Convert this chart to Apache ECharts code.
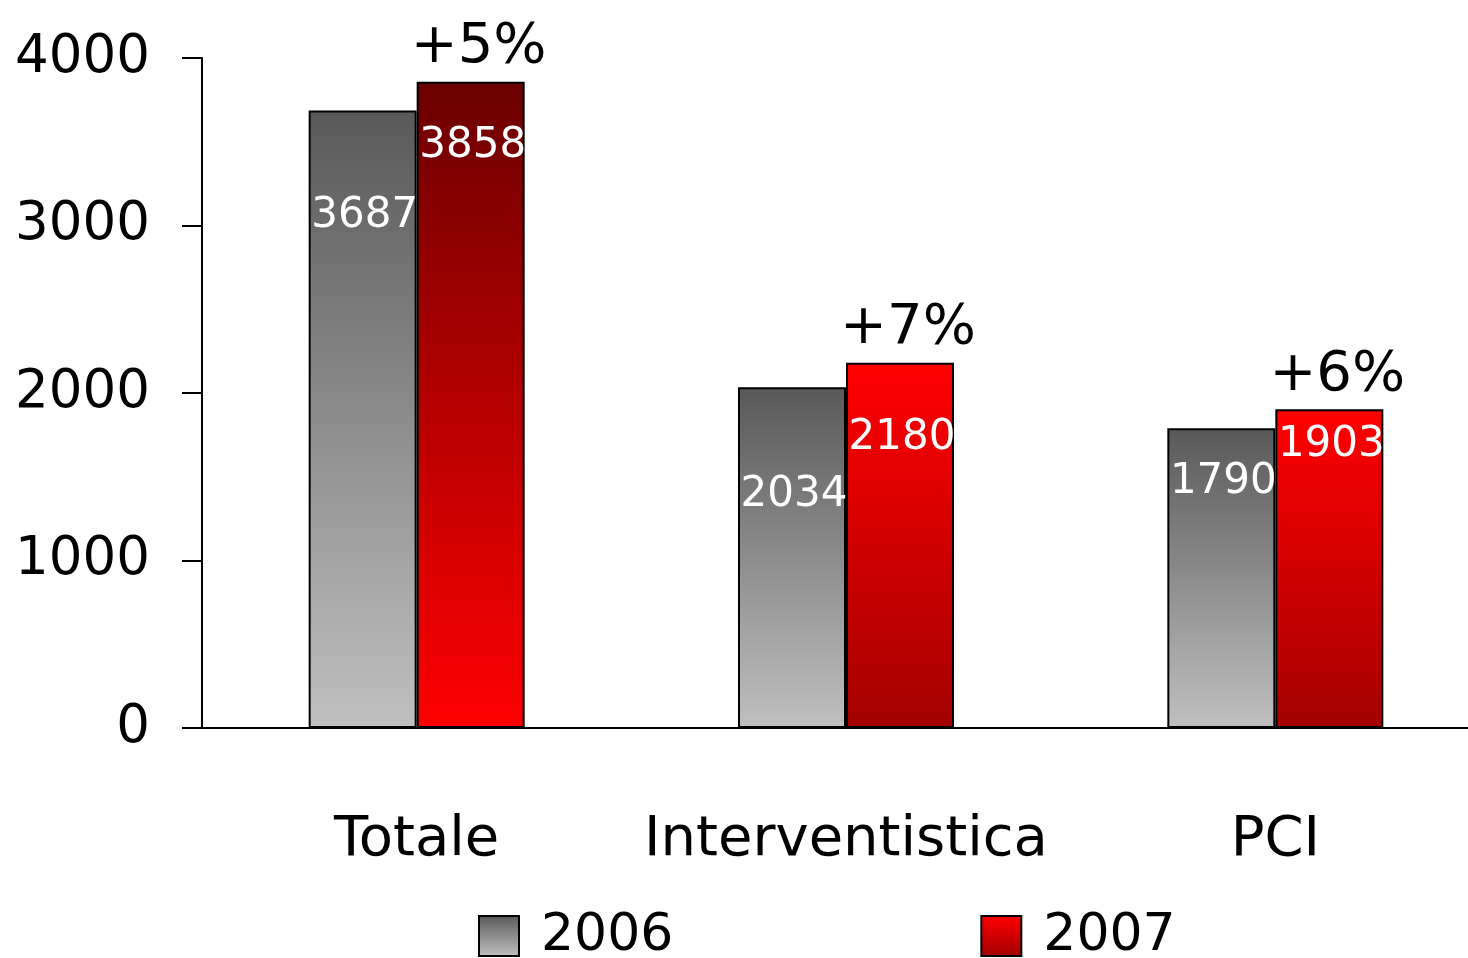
<!DOCTYPE html>
<html>
<head>
<meta charset="utf-8">
<script src="https://cdn.jsdelivr.net/npm/echarts@6/dist/echarts.min.js"></script>
<style>html,body{margin:0;padding:0;background:#fff}#c{width:1468px;height:958px}</style>
</head>
<body>
<div id="c"></div>
<script>
const categories = ['Totale', 'Interventistica', 'PCI'];
const seriesNames = ['2006', '2007'];
const values2006 = [3687, 2034, 1790];
const values2007 = [3858, 2180, 1903];
const growthLabels = ['+5%', '+7%', '+6%'];
const yMin = 0, yMax = 4000, yStep = 1000;

// styling (not data)
const FONT = 'DejaVu Sans';
const labelDy2006 = [85, 87, 33];
const labelDy2007 = [43, 54, 15];
const grad = (a, b) => new echarts.graphic.LinearGradient(0, 0, 0, 1, [{offset: 0, color: a}, {offset: 1, color: b}]);
const greyGrad = grad('#595959', '#c0c0c0');
const redDownGrad = grad('#ff0000', '#a30000');
const redUpGrad = grad('#6b0000', '#ff0000');
const redItemColors = [redUpGrad, redDownGrad, redDownGrad];

const chart = echarts.init(document.getElementById('c'));
chart.setOption({
  animation: false,
  backgroundColor: '#fff',
  textStyle: {fontFamily: FONT},
  grid: {left: 202, top: 58, width: 1288, bottom: 230, containLabel: false, outerBoundsMode: 'none'},
  legend: {
    left: 473, top: 905, itemWidth: 40, itemHeight: 40, itemGap: 307,
    icon: 'rect',
    textStyle: {fontFamily: FONT, fontSize: 52, color: '#000', padding: [0, 0, 0, 17]},
    data: seriesNames
  },
  xAxis: {
    type: 'category', data: categories,
    axisLine: {lineStyle: {color: '#000', width: 2}},
    axisTick: {length: 22, lineStyle: {color: '#000', width: 2}},
    axisLabel: {fontFamily: FONT, fontSize: 56, color: '#000', margin: 84, interval: 0}
  },
  yAxis: {
    type: 'value', min: yMin, max: yMax, interval: yStep,
    splitLine: {show: false},
    axisLine: {show: true, lineStyle: {color: '#000', width: 2}},
    axisTick: {show: true, length: 20, lineStyle: {color: '#000', width: 2}},
    axisLabel: {fontFamily: FONT, fontSize: 53, color: '#000', margin: 52, formatter: v => String(v)}
  },
  series: [
    {
      name: seriesNames[0], type: 'bar', barWidth: 108, barGap: '0%',
      itemStyle: {color: greyGrad, borderColor: '#000', borderWidth: 2},
      data: values2006.map((v, i) => ({
        value: v,
        label: {show: true, position: 'insideTop', distance: 0, offset: [2, labelDy2006[i]],
          color: '#fff', fontFamily: FONT, fontSize: 42}
      }))
    },
    {
      name: seriesNames[1], type: 'bar', barWidth: 108, barGap: '0%',
      itemStyle: {color: redDownGrad, borderColor: '#000', borderWidth: 2},
      data: values2007.map((v, i) => ({
        value: v,
        itemStyle: {color: redItemColors[i]},
        label: {show: true, position: 'insideTop', distance: 0, offset: [2, labelDy2007[i]],
          color: '#fff', fontFamily: FONT, fontSize: 42}
      })),
      markPoint: {
        symbol: 'circle', symbolSize: 0,
        label: {show: true, position: 'top', distance: 6, offset: [8, 0],
          color: '#000', fontFamily: FONT, fontSize: 56, formatter: p => p.name},
        data: values2007.map((v, i) => ({name: growthLabels[i], coord: [i, v]}))
      }
    }
  ]
});
</script>
</body>
</html>
